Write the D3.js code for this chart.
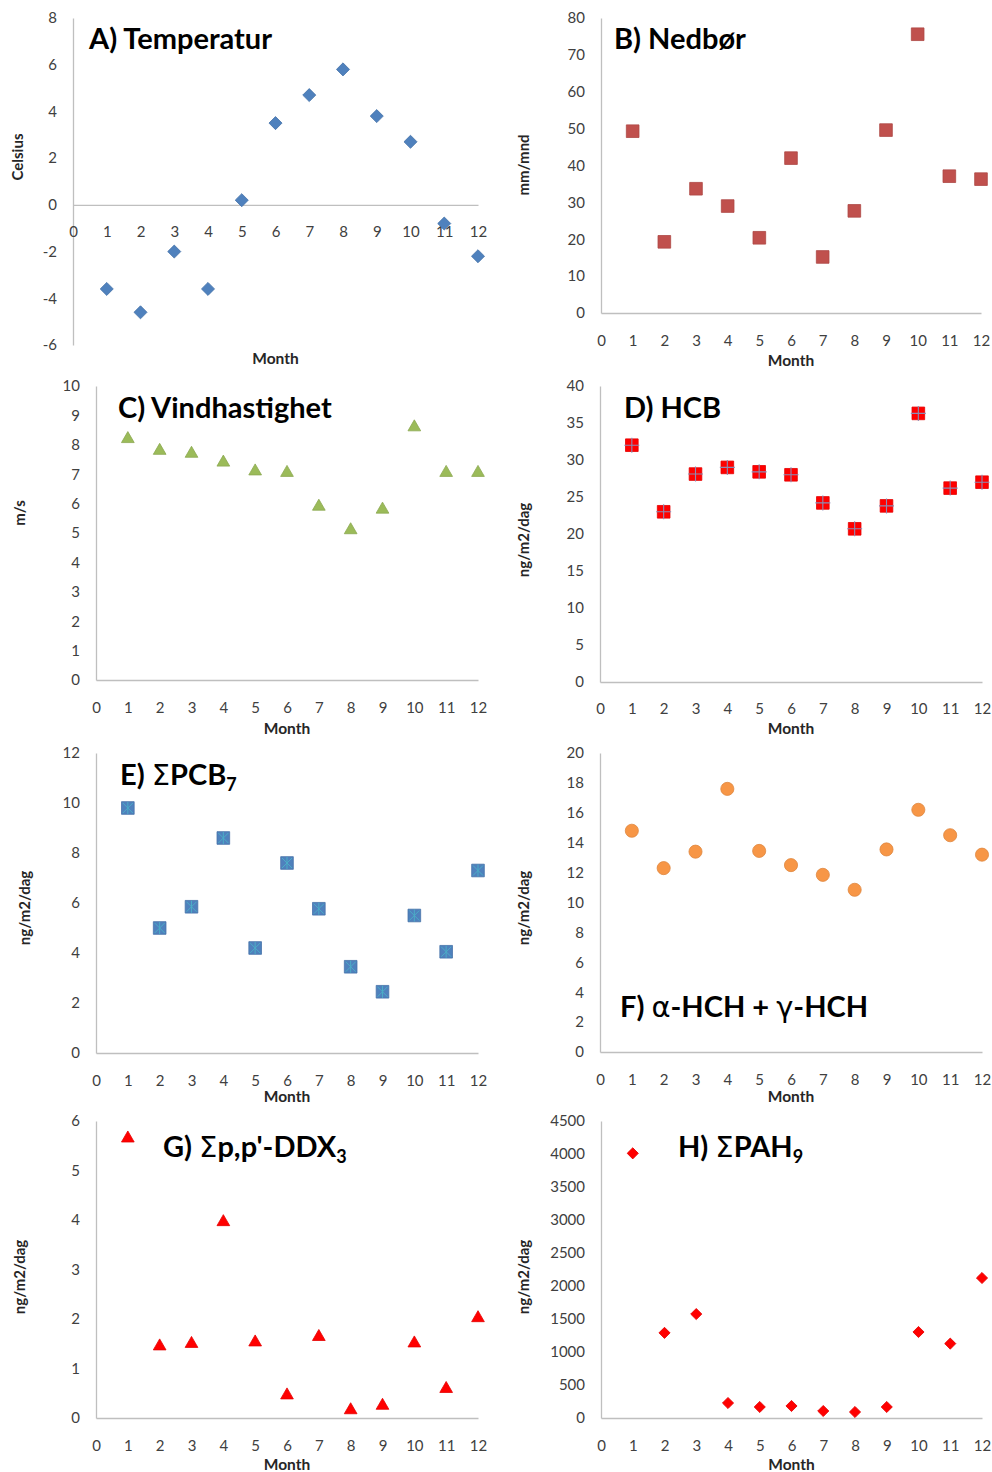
<!DOCTYPE html>
<html>
<head>
<meta charset="utf-8">
<script src="https://cdn.jsdelivr.net/npm/d3@7"></script>
<style>
  body { margin: 0; background: #fff; }
  svg { display: block; }
  text { font-family: Lato, "Open Sans", "Liberation Sans", sans-serif; }
</style>
</head>
<body>
<svg width="992" height="1472"></svg>
<script>
// månedene og aksemerker
const months = [1, 2, 3, 4, 5, 6, 7, 8, 9, 10, 11, 12];
const xTicks = [0, 1, 2, 3, 4, 5, 6, 7, 8, 9, 10, 11, 12];

// måleserier
const temperatur = [-3.6, -4.6, -2.0, -3.6, 0.2, 3.5, 4.7, 5.8, 3.8, 2.7, -0.8, -2.2];
const nedbor = [49.3, 19.3, 33.7, 29.0, 20.4, 42.0, 15.2, 27.7, 49.6, 75.6, 37.1, 36.3];
const vind = [8.2, 7.8, 7.7, 7.4, 7.1, 7.05, 5.9, 5.1, 5.8, 8.6, 7.05, 7.05];
const hcb = [32.0, 23.0, 28.1, 29.0, 28.4, 28.0, 24.2, 20.7, 23.8, 36.3, 26.2, 27.0];
const pcb7 = [9.8, 5.0, 5.85, 8.6, 4.2, 7.6, 5.77, 3.45, 2.45, 5.5, 4.05, 7.3];
const hch = [14.8, 12.3, 13.4, 17.6, 13.45, 12.5, 11.85, 10.85, 13.55, 16.2, 14.5, 13.2];
const ddx3 = [5.65, 1.45, 1.5, 3.96, 1.53, 0.46, 1.64, 0.16, 0.25, 1.51, 0.59, 2.02];
const pah9 = [4010, 1290, 1575, 227, 167, 182, 106, 91, 167, 1303, 1127, 2121];

// y-aksemerker per panel
const ticksA = [-6, -4, -2, 0, 2, 4, 6, 8];
const ticksB = [0, 10, 20, 30, 40, 50, 60, 70, 80];
const ticksC = [0, 1, 2, 3, 4, 5, 6, 7, 8, 9, 10];
const ticksD = [0, 5, 10, 15, 20, 25, 30, 35, 40];
const ticksE = [0, 2, 4, 6, 8, 10, 12];
const ticksF = [0, 2, 4, 6, 8, 10, 12, 14, 16, 18, 20];
const ticksG = [0, 1, 2, 3, 4, 5, 6];
const ticksH = [0, 500, 1000, 1500, 2000, 2500, 3000, 3500, 4000, 4500];

const svg = d3.select("svg");

const panels = [
    { values: temperatur, ticks: ticksA, ylabel: "Celsius", marker: "diamond", color: "#4F81BD",
      title: [["A) Temperatur"]], box: [73, 478, 18, 345], tickY: 232, monthY: 359, yl: [18, 157], tp: [89, 49] },
    { values: nedbor, ticks: ticksB, ylabel: "mm/mnd", marker: "square", color: "#C0504D",
      title: [["B) Nedbør"]], box: [601, 981, 18, 313], tickY: 341, monthY: 361, yl: [524, 165], tp: [614, 49] },
    { values: vind, ticks: ticksC, ylabel: "m/s", marker: "triangle", color: "#9BBB59",
      title: [["C) Vindhastighet"]], box: [96, 478, 386, 680], tickY: 708, monthY: 729, yl: [20, 513], tp: [118, 418] },
    { values: hcb, ticks: ticksD, ylabel: "ng/m2/dag", marker: "square", color: "#FF0000", extra: "plus",
      title: [["D) HCB"]], box: [600, 982, 386, 682], tickY: 709, monthY: 729, yl: [524, 540], tp: [624, 418] },
    { values: pcb7, ticks: ticksE, ylabel: "ng/m2/dag", marker: "square", color: "#4F81BD", extra: "star",
      title: [["E) "], ["Σ", "g"], ["PCB"], ["7", "sub"]], box: [96, 478, 753, 1053], tickY: 1081, monthY: 1097, yl: [25, 908], tp: [120, 785] },
    { values: hch, ticks: ticksF, ylabel: "ng/m2/dag", marker: "circle", color: "#F79646",
      title: [["F) "], ["α", "g"], ["-HCH + "], ["γ", "g"], ["-HCH"]], box: [600, 982, 753, 1052], tickY: 1080, monthY: 1097, yl: [524, 908], tp: [620, 1017] },
    { values: ddx3, ticks: ticksG, ylabel: "ng/m2/dag", marker: "triangle", color: "#FF0000",
      title: [["G) "], ["Σ", "g"], ["p,p'-DDX"], ["3", "sub"]], box: [96, 478, 1121, 1418], tickY: 1446, monthY: 1465, yl: [20, 1277], tp: [163, 1157] },
    { values: pah9, ticks: ticksH, ylabel: "ng/m2/dag", marker: "diamond", color: "#FF0000", small: true,
      title: [["H) "], ["Σ", "g"], ["PAH"], ["9", "sub"]], box: [601, 982, 1121, 1418], tickY: 1446, monthY: 1465, yl: [524, 1277], tp: [678, 1157] }
];

const symbols = {
    diamond: d3.symbol().type(d3.symbolSquare).size(85),
    square: d3.symbol().type(d3.symbolSquare).size(160),
    triangle: d3.symbol().type(d3.symbolTriangle).size(70),
    circle: d3.symbol().type(d3.symbolCircle).size(135)
};

const fmt = d => String(d);

panels.forEach(p => {
    const [x0, x1, top, bottom] = p.box;
    const x = d3.scaleLinear().domain([0, 12]).range([x0, x1]);
    const y = d3.scaleLinear().domain(d3.extent(p.ticks)).range([bottom, top]);
    const g = svg.append("g");

    // y-akse
    const yAxis = g.append("g")
        .attr("transform", `translate(${x0},0)`)
        .call(d3.axisLeft(y).tickValues(p.ticks).tickFormat(fmt).tickSize(0).tickSizeOuter(0).tickPadding(16));
    yAxis.select(".domain").attr("stroke", "#BFBFBF").attr("stroke-width", 1.3);
    yAxis.selectAll("text").attr("font-size", 15).attr("fill", "#404040")
        .attr("font-family", "Lato, 'Open Sans', sans-serif");

    // x-akse ved null
    const y0 = y(0);
    const xAxis = g.append("g")
        .attr("transform", `translate(0,${y0})`)
        .call(d3.axisBottom(x).tickValues(xTicks).tickFormat(fmt).tickSize(0).tickSizeOuter(0));
    xAxis.select(".domain").attr("stroke", "#BFBFBF").attr("stroke-width", 1.3);
    xAxis.selectAll("text")
        .attr("y", p.tickY - y0).attr("dy", "0.35em")
        .attr("font-size", 15).attr("fill", "#404040")
        .attr("font-family", "Lato, 'Open Sans', sans-serif");

    // aksetitler
    g.append("text")
        .attr("x", (x0 + x1) / 2).attr("y", p.monthY).attr("dy", "0.35em")
        .attr("text-anchor", "middle").attr("font-size", 15.5).attr("font-weight", "bold")
        .attr("fill", "#262626").text("Month");
    g.append("text")
        .attr("transform", `translate(${p.yl[0]},${p.yl[1]}) rotate(-90)`)
        .attr("dy", "0.35em").attr("text-anchor", "middle")
        .attr("font-size", 15).attr("font-weight", "bold").attr("fill", "#262626")
        .text(p.ylabel);

    // panel-tittel
    const t = g.append("text")
        .attr("x", p.tp[0]).attr("y", p.tp[1])
        .attr("font-size", 29).attr("font-weight", "bold").attr("fill", "#000");
    p.title.forEach(([s, kind]) => {
        const ts = t.append("tspan").text(s);
        if (kind === "g") ts.attr("font-family", "'DejaVu Sans', sans-serif").attr("font-weight", "normal");
        if (kind === "sub") ts.attr("font-size", 18).attr("dy", 6);
    });

    // punkter
    const pts = g.append("g").selectAll("g")
        .data(months.map((m, i) => ({ m, v: p.values[i] })))
        .join("g")
        .attr("transform", d => `translate(${x(d.m)},${y(d.v)})` + (p.marker === "diamond" ? " rotate(45)" : ""));

    const sym = p.small ? d3.symbol().type(d3.symbolSquare).size(62) : symbols[p.marker];
    pts.append("path")
        .attr("d", sym)
        .attr("fill", p.color)
        .attr("stroke", d3.color(p.color).darker(0.3))
        .attr("stroke-width", 0.8);

    if (p.extra === "plus") {
        pts.append("path").attr("d", "M-7.5,0H7.5M0,-7.5V7.5")
            .attr("stroke", "#8C8CB4").attr("stroke-width", 1.1);
    }
    if (p.extra === "star") {
        pts.append("path").attr("d", "M-5,-5L5,5M-5,5L5,-5M0,-6V6")
            .attr("stroke", "#4BACC6").attr("stroke-width", 1);
    }
});
</script>
</body>
</html>
